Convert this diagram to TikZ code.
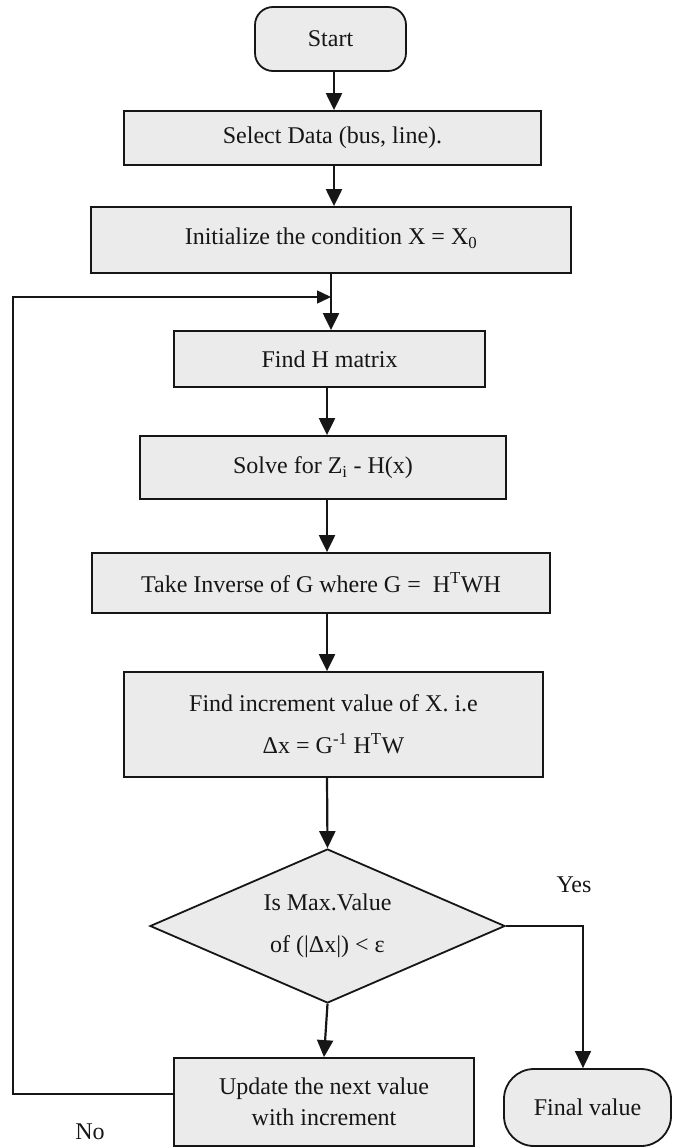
\documentclass[tikz,border=0pt]{standalone}
\usepackage{fontspec}
\setmainfont{Liberation Serif}
\usetikzlibrary{arrows.meta,shapes.geometric}
\definecolor{boxgray}{HTML}{EBEBEB}
\definecolor{ink}{HTML}{161616}
\begin{document}
\begin{tikzpicture}[x=1pt,y=1pt,
  txt/.style={font=\fontsize{24}{29}\selectfont, text=ink},
  box/.style={txt, draw=ink, fill=boxgray, line width=1.8pt, rectangle, inner sep=0pt, align=center},
  term/.style={box, rounded corners=#1},
  arr/.style={draw=ink, line width=2.2pt, -{Triangle[length=17pt,width=16pt]}},
  thinarr/.style={draw=ink, line width=1.7pt, -{Triangle[length=17pt,width=16pt]}},
  loopline/.style={draw=ink, line width=1.5pt, -{Triangle[length=14pt,width=13pt]}}
]
\useasboundingbox (0,0) rectangle (679,-1148);
% nodes
\node[term=18pt, minimum width=151pt, minimum height=64pt] (start) at (330.5,-39) {Start};
\node[box, minimum width=417pt, minimum height=54pt] (sel) at (332.5,-138) {Select Data (bus, line).};
\node[box, minimum width=480pt, minimum height=66pt] (init) at (331,-240) {\raisebox{7pt}{Initialize the condition X = X\textsubscript{0}}};
\node[box, minimum width=311pt, minimum height=56pt] (findh) at (329.5,-359) {Find H matrix};
\node[box, minimum width=366pt, minimum height=63pt] (solve) at (323,-467.5) {Solve for Z\textsubscript{i} - H(x)};
\node[box, minimum width=458pt, minimum height=60pt] (take) at (321,-583) {Take Inverse of G where G =\ \ H\textsuperscript{T}WH};
\node[box, minimum width=419pt, minimum height=105pt, font=\fontsize{24}{42}\selectfont] (inc) at (333.5,-724.5) {Find increment value of X. i.e\\ Δx = G\textsuperscript{-1} H\textsuperscript{T}W};
\node[box, shape=diamond, aspect=2.3, minimum width=355pt, minimum height=154pt, font=\fontsize{24}{42}\selectfont] (dec) at (327.5,-926) {Is Max.Value\\ of (|Δx|) < ε};
\node[box, minimum width=300pt, minimum height=88pt, font=\fontsize{24}{31}\selectfont] (upd) at (324,-1102) {Update the next value\\ with increment};
\node[term=30pt, minimum width=167pt, minimum height=77pt] (final) at (587.5,-1107.5) {Final value};
\node[txt] (yes) at (574,-885) {Yes};
\node[txt] (no) at (90,-1132) {No};
% helper coordinates
\coordinate (colA) at (334,0);
\coordinate (colB) at (327,0);
\coordinate (colY) at (583,0);
\coordinate (join) at (331,-297);
\coordinate (lc1) at (13,-1094);
\coordinate (lc2) at (13,-297);
% connectors
\draw[arr] (start.south -| colA) -- (sel.north -| colA);
\draw[arr] (sel.south -| colA) -- (init.north -| colA);
\draw[arr] (init.south -| join) -- (findh.north -| join);
\draw[arr] (findh.south -| colB) -- (solve.north -| colB);
\draw[arr] (solve.south -| colB) -- (take.north -| colB);
\draw[arr] (take.south -| colB) -- (inc.north -| colB);
\draw[arr] (inc.south -| colB) -- (dec.north);
\draw[arr] (dec.south) -- (upd.north);
\draw[thinarr] (dec.east) -| (colY |- final.north);
\draw[loopline] (lc1 -| upd.west) -- (lc1) -- (lc2) -- (join);
\end{tikzpicture}
\end{document}
